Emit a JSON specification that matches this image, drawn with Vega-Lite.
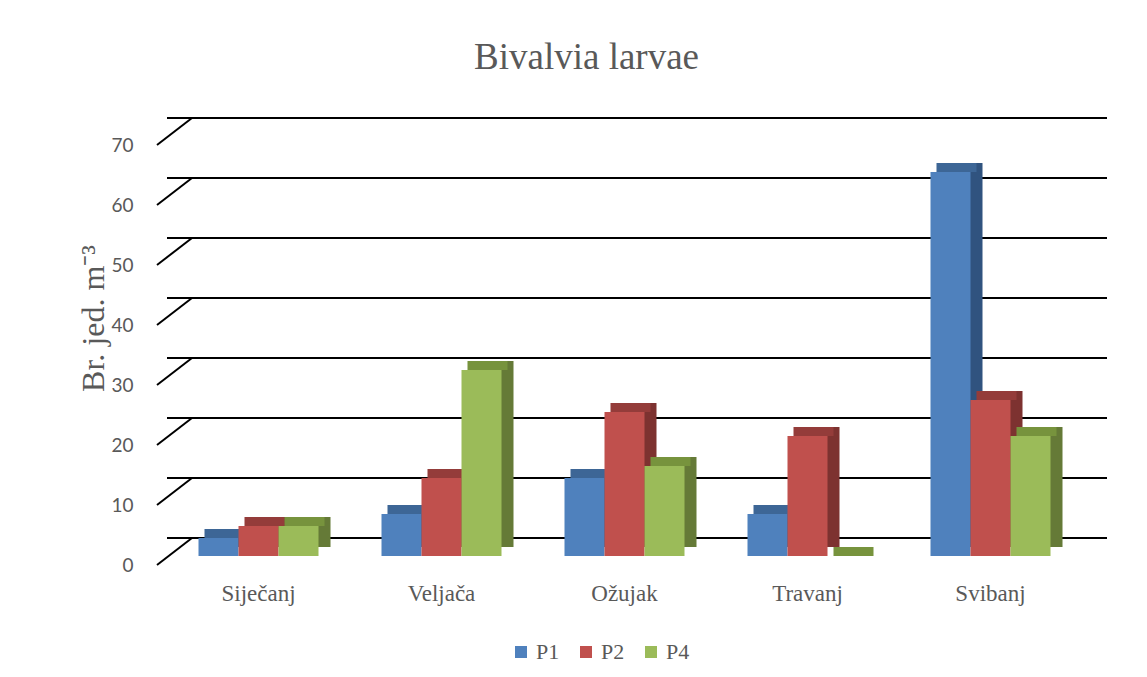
{
  "$schema": "https://vega.github.io/schema/vega-lite/v6.json",
  "width": 915,
  "height": 420,
  "autosize": {"type": "none"},
  "padding": {"left": 167, "top": 136, "right": 65, "bottom": 121},
  "background": "white",
  "title": {"text": "Bivalvia larvae", "font": "Liberation Serif", "fontSize": 37, "fontWeight": "normal", "color": "#595959", "anchor": "middle", "dx": -38, "offset": 11, "baseline": "alphabetic"},
  "datasets": {
    "bars": [
      {"month": "Siječanj", "series": "P1", "value": 3},
      {"month": "Siječanj", "series": "P2", "value": 5},
      {"month": "Siječanj", "series": "P4", "value": 5},
      {"month": "Veljača", "series": "P1", "value": 7},
      {"month": "Veljača", "series": "P2", "value": 13},
      {"month": "Veljača", "series": "P4", "value": 31},
      {"month": "Ožujak", "series": "P1", "value": 13},
      {"month": "Ožujak", "series": "P2", "value": 24},
      {"month": "Ožujak", "series": "P4", "value": 15},
      {"month": "Travanj", "series": "P1", "value": 7},
      {"month": "Travanj", "series": "P2", "value": 20},
      {"month": "Travanj", "series": "P4", "value": 0},
      {"month": "Svibanj", "series": "P1", "value": 64},
      {"month": "Svibanj", "series": "P2", "value": 26},
      {"month": "Svibanj", "series": "P4", "value": 20}
    ],
    "grid": [
      {"value": 0}, {"value": 10}, {"value": 20}, {"value": 30},
      {"value": 40}, {"value": 50}, {"value": 60}, {"value": 70}
    ]
  },
  "config": {
    "view": {"stroke": null},
    "axisX": {"domain": false, "ticks": false, "grid": false, "labelFont": "Liberation Serif", "labelFontSize": 23, "labelColor": "#595959", "labelPadding": 26, "labelAngle": 0},
    "axisY": {"domain": false, "ticks": false, "grid": false, "labelFont": "Lato", "labelFontSize": 19, "labelColor": "#595959", "labelPadding": 34, "labelOffset": 9,
      "titleFont": "Liberation Serif", "titleFontSize": 32, "titleFontWeight": "normal", "titleColor": "#595959", "titleAngle": -90, "titleX": -74, "titleY": 182, "titleAlign": "center", "titleBaseline": "middle"}
  },
  "encoding": {
    "x": {"field": "month", "type": "nominal", "sort": ["Siječanj", "Veljača", "Ožujak", "Travanj", "Svibanj"], "scale": {"domain": ["Siječanj", "Veljača", "Ožujak", "Travanj", "Svibanj"], "paddingInner": 0.344, "paddingOuter": 0.172}, "title": null},
    "y": {"field": "value", "type": "quantitative", "scale": {"domain": [0, 70]}, "title": "Br. jed. m⁻³", "axis": {"values": [0, 10, 20, 30, 40, 50, 60, 70]}}
  },
  "layer": [
    {
      "data": {"name": "grid"},
      "mark": {"type": "rule", "color": "#000000", "strokeWidth": 2, "xOffset": 25, "x2Offset": 25, "yOffset": -18},
      "encoding": {"x": null}
    },
    {
      "data": {"name": "grid"},
      "mark": {"type": "rule", "color": "#000000", "strokeWidth": 2, "xOffset": -41.5, "x2Offset": -6.5, "yOffset": 9, "y2Offset": -18},
      "encoding": {
        "x": {"datum": "Siječanj", "bandPosition": 0, "type": "nominal", "title": null},
        "x2": {"datum": "Siječanj", "bandPosition": 0},
        "y2": {"field": "value"}
      }
    },
    {
      "data": {"name": "bars"},
      "transform": [{"filter": "datum.series === 'P1'"}],
      "layer": [
        {"mark": {"type": "bar", "width": 40, "xOffset": -28, "yOffset": -9, "y2Offset": -4, "color": "#30537F"}, "encoding": {}},
        {"mark": {"type": "bar", "width": 40, "xOffset": -34, "yOffset": -9, "y2Offset": 0, "color": "#3D6696"}, "encoding": {"y2": {"field": "value"}}},
        {"mark": {"type": "bar", "width": 40, "xOffset": -40}, "encoding": {"color": {"field": "series", "type": "nominal"}}}
      ]
    },
    {
      "data": {"name": "bars"},
      "transform": [{"filter": "datum.series === 'P2'"}],
      "layer": [
        {"mark": {"type": "bar", "width": 40, "xOffset": 12, "yOffset": -9, "y2Offset": -4, "color": "#7D3230"}, "encoding": {}},
        {"mark": {"type": "bar", "width": 40, "xOffset": 6, "yOffset": -9, "y2Offset": 0, "color": "#943C3A"}, "encoding": {"y2": {"field": "value"}}},
        {"mark": {"type": "bar", "width": 40, "xOffset": 0}, "encoding": {"color": {"field": "series", "type": "nominal"}}}
      ]
    },
    {
      "data": {"name": "bars"},
      "transform": [{"filter": "datum.series === 'P4'"}],
      "layer": [
        {"mark": {"type": "bar", "width": 40, "xOffset": 52, "yOffset": -9, "y2Offset": -4, "color": "#657A37"}, "encoding": {}},
        {"mark": {"type": "bar", "width": 40, "xOffset": 46, "yOffset": -9, "y2Offset": 0, "color": "#77933D"}, "encoding": {"y2": {"field": "value"}}},
        {"mark": {"type": "bar", "width": 40, "xOffset": 40},
          "encoding": {"color": {"field": "series", "type": "nominal", "scale": {"domain": ["P1", "P2", "P4"], "range": ["#4F81BD", "#C0504D", "#9BBB59"]},
            "legend": {"orient": "none", "legendX": 343, "legendY": 505, "direction": "horizontal", "title": null, "labelFont": "Liberation Serif", "labelFontSize": 22, "labelColor": "#595959", "symbolType": "square", "symbolSize": 144, "symbolStrokeWidth": 0, "symbolOpacity": 1, "columnPadding": 15, "labelOffset": 4, "padding": 0}}}
        }
      ]
    }
  ]
}
